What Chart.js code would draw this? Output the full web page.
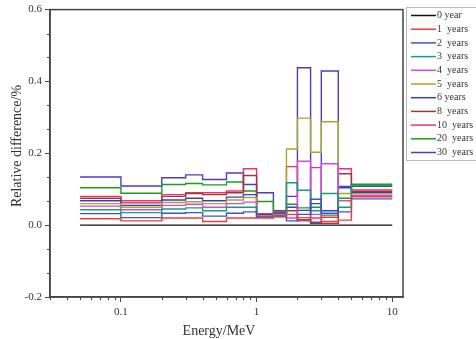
<!DOCTYPE html>
<html>
<head>
<meta charset="utf-8">
<script src="https://cdn.jsdelivr.net/npm/chart.js@4/dist/chart.umd.min.js"></script>
<style>
  body { margin: 0; background: #fff; }
  #wrap { width: 476px; height: 339px; position: relative; }
</style>
</head>
<body>
<div id="wrap"><canvas id="chart"></canvas></div>
<script>
// Energy bin edges (MeV) and per-bin relative differences (%), one array per series.
const energyEdges = [0.05, 0.1, 0.2, 0.3, 0.4, 0.6, 0.8, 1.0, 1.33, 1.66, 2.0, 2.5, 3.0, 4.0, 5.0, 10];

const year0 = [0, 0, 0, 0, 0, 0, 0, 0, 0, 0, 0, 0, 0, 0, 0];
const year1 = [0.018, 0.012, 0.02, 0.02, 0.01, 0.02, 0.02, 0.02, 0.023, 0.03, 0.021, 0.02, 0.01, 0.014, 0.079];
const year2 = [0.032, 0.021, 0.033, 0.035, 0.025, 0.033, 0.037, 0.022, 0.024, 0.012, 0.03, 0.072, 0.033, 0.037, 0.073];
const year3 = [0.043, 0.035, 0.045, 0.048, 0.04, 0.05, 0.05, 0.023, 0.026, 0.118, 0.097, 0.04, 0.088, 0.05, 0.11];
const year4 = [0.053, 0.043, 0.055, 0.058, 0.05, 0.06, 0.064, 0.025, 0.028, 0.02, 0.178, 0.03, 0.171, 0.068, 0.083];
const year5 = [0.06, 0.05, 0.063, 0.065, 0.06, 0.07, 0.077, 0.026, 0.03, 0.212, 0.298, 0.203, 0.288, 0.088, 0.087];
const year6 = [0.068, 0.055, 0.07, 0.075, 0.068, 0.078, 0.085, 0.028, 0.032, 0.05, 0.041, 0.06, 0.04, 0.104, 0.09];
const year8 = [0.075, 0.062, 0.08, 0.088, 0.085, 0.09, 0.138, 0.03, 0.034, 0.04, 0.015, 0.008, 0.005, 0.143, 0.094];
const year10 = [0.08, 0.068, 0.085, 0.09, 0.09, 0.095, 0.157, 0.032, 0.036, 0.163, 0.012, 0.16, 0.022, 0.157, 0.098];
const year20 = [0.104, 0.089, 0.113, 0.116, 0.112, 0.12, 0.095, 0.066, 0.037, 0.058, 0.048, 0.05, 0.028, 0.075, 0.114];
const year30 = [0.134, 0.109, 0.132, 0.14, 0.127, 0.145, 0.113, 0.09, 0.04, 0.08, 0.438, 0.005, 0.429, 0.108, 0.108];

const seriesLabels = ["0 year", "1  years", "2  years", "3  years", "4  years", "5  years",
  "6 years", "8  years", "10  years", "20  years", "30  years"];
const seriesValues = [year0, year1, year2, year3, year4, year5, year6, year8, year10, year20, year30];
const seriesColors = ["#111111", "#f03c3c", "#3a55d0", "#10a080", "#d848d8", "#a8a828",
  "#3c3cc0", "#a03838", "#f03070", "#18a018", "#4a3cc8"];

const yTickValues = [-0.2, 0, 0.2, 0.4, 0.6];
const xTickValues = [0.1, 1, 10];

const axisColor = "#444";
const textColor = "#333";
const serif = "'Liberation Serif', 'DejaVu Serif', serif";

const datasets = seriesValues.map((vals, i) => ({
  label: seriesLabels[i],
  data: energyEdges.map((e, k) => ({ x: e, y: vals[Math.min(k, vals.length - 1)] })),
  borderColor: seriesColors[i],
  borderWidth: 1.4,
  pointRadius: 0,
  stepped: "before",
  fill: false,
}));

// frame, minor ticks, axis titles and legend
const decorations = {
  id: "decorations",
  afterDraw(chart) {
    const { ctx, chartArea: a } = chart;
    const xs = chart.scales.x;
    const ys = chart.scales.y;
    ctx.save();
    ctx.strokeStyle = axisColor;
    ctx.lineWidth = 1.5;
    ctx.strokeRect(a.left, a.top, a.right - a.left, a.bottom - a.top);

    ctx.lineWidth = 1;
    ctx.beginPath();
    for (let k = -3; k <= 9; k++) {
      if (k % 3 === 0) continue;
      const py = Math.round(ys.getPixelForValue(k * 0.2 / 3)) + 0.5;
      ctx.moveTo(a.left, py);
      ctx.lineTo(a.left - 3, py);
    }
    [0.01, 0.1, 1].forEach((d) => {
      for (let m = 2; m <= 9; m++) {
        const v = m * d;
        if (v < xs.min || v > xs.max) continue;
        const px = Math.round(xs.getPixelForValue(v)) + 0.5;
        ctx.moveTo(px, a.bottom);
        ctx.lineTo(px, a.bottom + 3);
      }
    });
    ctx.stroke();

    ctx.fillStyle = textColor;
    ctx.font = "14px " + serif;
    ctx.textAlign = "center";
    ctx.textBaseline = "middle";
    ctx.fillText("Energy/MeV", 219, 331);
    ctx.save();
    ctx.translate(17, 146);
    ctx.rotate(-Math.PI / 2);
    ctx.fillText("Relative difference/%", 0, 0);
    ctx.restore();

    // legend
    ctx.strokeStyle = "#bbb";
    ctx.lineWidth = 1;
    ctx.strokeRect(406.5, 7.5, 80, 153);
    ctx.font = "10px " + serif;
    ctx.textAlign = "left";
    chart.data.datasets.forEach((ds, i) => {
      const ry = 15.5 + i * 13.7;
      ctx.strokeStyle = ds.borderColor;
      ctx.lineWidth = 1.5;
      ctx.beginPath();
      ctx.moveTo(411, ry);
      ctx.lineTo(436, ry);
      ctx.stroke();
      ctx.fillStyle = textColor;
      ctx.fillText(ds.label, 437, ry);
    });
    ctx.restore();
  },
};

new Chart(document.getElementById("chart"), {
  type: "line",
  data: { datasets },
  options: {
    responsive: true,
    maintainAspectRatio: false,
    animation: false,
    layout: { padding: { top: 8, right: 73, bottom: 0, left: 0 } },
    plugins: { legend: { display: false }, tooltip: { enabled: false } },
    scales: {
      x: {
        type: "logarithmic",
        min: 0.03,
        max: 12,
        afterFit: (s) => { s.height = 42; },
        afterBuildTicks: (s) => { s.ticks = xTickValues.map((v) => ({ value: v })); },
        ticks: {
          color: textColor,
          font: { family: serif, size: 11 },
          padding: 4,
          maxRotation: 0,
          autoSkip: false,
          callback: (v) => String(v),
        },
        grid: { drawOnChartArea: false, drawTicks: true, tickLength: 5, color: axisColor },
        border: { display: true, color: axisColor, width: 1.5 },
      },
      y: {
        min: -0.2,
        max: 0.6,
        afterFit: (s) => { s.width = 50; },
        afterBuildTicks: (s) => { s.ticks = yTickValues.map((v) => ({ value: v })); },
        ticks: {
          color: textColor,
          font: { family: serif, size: 11 },
          padding: 3,
          callback: (v) => v.toFixed(1),
        },
        grid: { drawOnChartArea: false, drawTicks: true, tickLength: 5, color: axisColor },
        border: { display: true, color: axisColor, width: 1.5 },
      },
    },
  },
  plugins: [decorations],
});
</script>
</body>
</html>
